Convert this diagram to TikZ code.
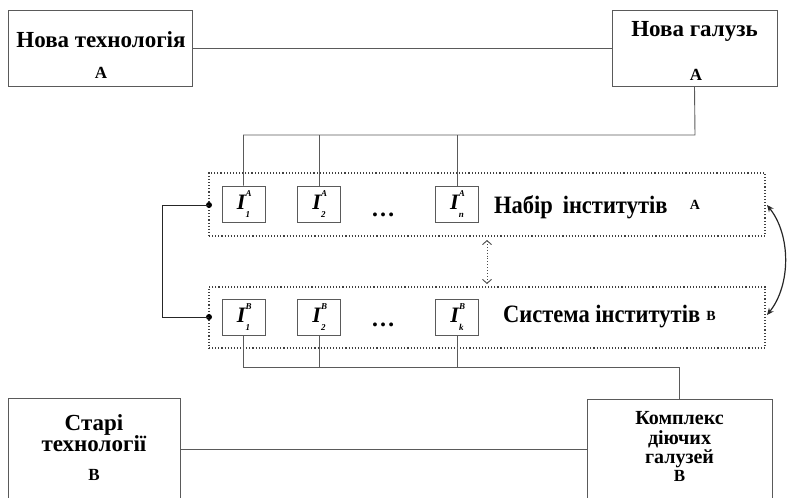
\documentclass[tikz,border=0pt]{standalone}
\usepackage{fontspec}
\setmainfont{Liberation Serif}[BoldFont={Liberation Serif Bold},BoldItalicFont={Liberation Serif Bold Italic}]
\newfontfamily\narrowfont{Liberation Serif}[FakeStretch=0.9,BoldFont={Liberation Serif Bold}]
\usetikzlibrary{arrows.meta}
\definecolor{lc}{HTML}{5A5A5A}
\tikzset{
  box/.style={draw=lc, line width=0.9pt, rectangle, inner sep=0pt},
  ibox/.style={draw=lc, line width=0.8pt, rectangle, minimum width=43pt, minimum height=36pt, inner sep=0pt},
  dotbox/.style={draw=black!75, dotted, line width=1.1pt, rectangle, inner sep=0pt},
  conn/.style={draw=lc, line width=0.9pt},
  lbl/.style={font=\bfseries\fontsize{23}{21}\selectfont, inner sep=0pt},
  big/.style={font=\narrowfont\bfseries\fontsize{25}{26}\selectfont, inner sep=0pt},
  small/.style={font=\bfseries\fontsize{17}{17}\selectfont, inner sep=0pt},
  dot/.style={circle, fill=black, inner sep=0pt, minimum size=6pt},
  dotsl/.style={font=\bfseries\fontsize{24}{24}\selectfont, inner sep=0pt},
}
\newcommand{\inst}[2]{\bfseries\itshape\fontsize{22}{22}\selectfont I\rlap{\raisebox{0.58em}{\fontsize{9}{9}\selectfont #1}}\raisebox{-0.38em}{\fontsize{9}{9}\selectfont #2}\hspace{3pt}}
\begin{document}
\begin{tikzpicture}[x=1pt,y=-1pt]
\useasboundingbox (0,0) rectangle (790,498);
% top boxes
\node[box, minimum width=184pt, minimum height=76pt] (ta) at (100,48) {};
\node[lbl] (tat) at (101,40) {Нова технологія};
\node[small] (taa) at (101,73) {A};
\node[box, minimum width=165pt, minimum height=76pt] (ga) at (694.5,48) {};
\node[lbl] (gat) at (694.5,31) {Нова галузь};
\node[small] (gaa) at (696,75) {A};
\draw[conn] (ta.east) -- (ga.west);
% institutions A
\node[dotbox, minimum width=556pt, minimum height=63pt] (da) at (487,204.5) {};
\node[ibox] (a1) at (243.5,204) {\inst{A}{1}};
\node[ibox] (a2) at (319,204) {\inst{A}{2}};
\node[ibox] (an) at (457,204) {\inst{A}{n}};
\node[dotsl] (adots) at (383,215) {\dots};
\node[big, anchor=west] (at) at (494,207) {Набір\, інститутів};
\node[small] (ata) at (695,205) {\fontsize{14}{14}\selectfont A};
% institutions B
\node[dotbox, minimum width=556pt, minimum height=61pt] (db) at (487,317.5) {};
\node[ibox] (b1) at (243.5,317) {\inst{B}{1}};
\node[ibox] (b2) at (319,317) {\inst{B}{2}};
\node[ibox] (bk) at (457,317) {\inst{B}{k}};
\node[dotsl] (bdots) at (383,325) {\dots};
\node[big, anchor=west] (bt) at (503,317) {Система інститутів};
\node[small] (btb) at (711,316) {\fontsize{14}{14}\selectfont B};
% bottom boxes
\node[box, minimum width=172pt, minimum height=112pt] (sb) at (94,454) {};
\node[lbl, align=center] (sbt) at (94,433) {Старі\\технології};
\node[small] (sbb) at (94,475) {B};
\node[box, minimum width=185pt, minimum height=112pt] (kb) at (679.5,455) {};
\node[font=\bfseries\fontsize{20}{19.5}\selectfont, inner sep=0pt, align=center] (kbt) at (679.5,440) {Комплекс\\діючих\\галузей};
\node[small] (kbb) at (679.5,476) {B};
\coordinate (hl) at (180,449);
\coordinate (hr) at (587,449);
\draw[conn] (hl) -- (hr);
% top connectors
\coordinate (gtap) at (695,135);
\coordinate (t1) at (243.5,135);
\coordinate (t2) at (319,135);
\coordinate (tn) at (457,135);
\draw[conn] (ga.south) -- (gtap) -- (t1) -- (a1.north);
\draw[conn] (t2) -- (a2.north);
\draw[conn] (tn) -- (an.north);
% bottom connectors
\coordinate (btap) at (679.5,367);
\coordinate (u1) at (243.5,367);
\coordinate (u2) at (319,367);
\coordinate (uk) at (457,367);
\draw[conn] (kb.north) -- (btap) -- (u1) -- (b1.south);
\draw[conn] (u2) -- (b2.south);
\draw[conn] (uk) -- (bk.south);
% left link
\node[dot] (dA) at (209,205) {};
\node[dot] (dB) at (209,317) {};
\coordinate (lA) at (162,205);
\coordinate (lB) at (162,317);
\draw[draw=black!85, line width=1pt] (dA.center) -- (lA) -- (lB) -- (dB.center);
% middle dotted double arrow
\coordinate (ma) at (487,240);
\coordinate (mb) at (487,284);
\draw[draw=black!70, dotted, line width=0.9pt, {Straight Barb[length=4pt,width=9pt,line width=0.9pt]}-{Straight Barb[length=4pt,width=9pt,line width=0.9pt]}] (ma) -- (mb);
% right curved arrow
\coordinate (rA) at (767,205);
\coordinate (rB) at (767,315);
\draw[draw=black!85, line width=1.2pt, {Stealth[length=7pt,width=6pt]}-{Stealth[length=7pt,width=6pt]}] (rA) .. controls (791,235) and (791,285) .. (rB);
\end{tikzpicture}
\end{document}
